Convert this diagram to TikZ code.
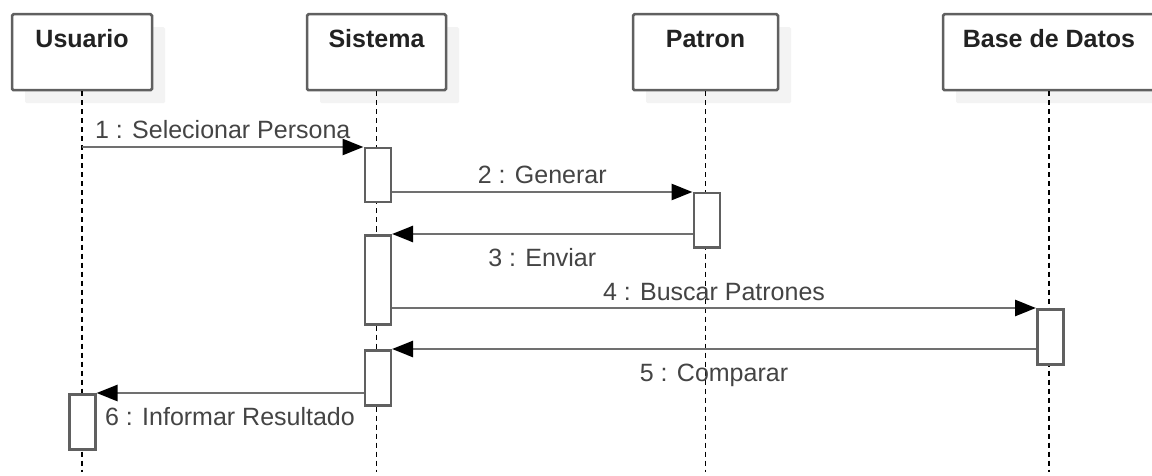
\documentclass[tikz,border=0pt]{standalone}
\usepackage{fontspec}
\setmainfont{Liberation Sans}
\usetikzlibrary{arrows.meta,shadows}
\definecolor{bordc}{HTML}{606060}
\definecolor{linec}{HTML}{707070}
\definecolor{txtc}{HTML}{444444}
\definecolor{titc}{HTML}{222222}
\definecolor{shadc}{HTML}{F3F3F3}
\begin{document}
\begin{tikzpicture}[x=1pt,y=-1pt,
  objbox/.style={draw=bordc, line width=2.5pt, fill=white, rounded corners=1.5pt,
    inner sep=0pt, text height=33pt, text depth=43pt, anchor=north,
    font=\fontsize{25}{30}\selectfont\bfseries, text=titc,
    drop shadow={shadow xshift=13pt, shadow yshift=-13pt, fill=shadc, opacity=1}},
  actbox/.style={draw=bordc, line width=2.5pt, fill=white, minimum width=26pt,
    inner sep=0pt, anchor=north west},
  life/.style={black, line width=1.8pt, dash pattern=on 5pt off 4pt},
  msg/.style={draw=linec, line width=2.5pt, -{Triangle[length=21pt,width=16pt,color=black]}},
  lbl/.style={anchor=base, font=\fontsize{25}{30}\selectfont, text=txtc, inner sep=0pt},
  lblabove/.style={lbl, midway, yshift=8pt},
  lblbelow/.style={lbl, midway, yshift=-32pt}]
\useasboundingbox (0,0) rectangle (1152,476);
\clip (0,0) rectangle (1152,476);
\fill[white] (0,0) rectangle (1152,476);

% objects
\node[objbox, minimum width=140pt] (usr) at (82,13) {Usuario};
\node[objbox, minimum width=139pt] (sis) at (376.5,13) {Sistema};
\node[objbox, minimum width=145pt] (pat) at (705.5,13) {Patron};
\node[objbox, minimum width=212pt] (bd) at (1049,13) {Base de Datos};

% lifeline ends
\coordinate (usrE) at (82,472);
\coordinate (sisE) at (376.5,472);
\coordinate (patE) at (705.5,472);
\coordinate (bdE) at (1049,472);

\draw[life] (usr.south) -- (usrE);
\draw[life] (sis.south) -- (sisE);
\draw[life] (pat.south) -- (patE);
\draw[life] (bd.south) -- (bdE);

% activations
\node[actbox, minimum height=54pt] (a1) at (363.5,147) {};
\node[actbox, minimum height=89pt] (a2) at (363.5,234) {};
\node[actbox, minimum height=55pt] (a3) at (363.5,349) {};
\node[actbox, minimum height=54pt] (p1) at (692.5,192) {};
\node[actbox, minimum height=55pt] (b1) at (1036,308) {};
\node[actbox, minimum height=55pt] (u1) at (68,393) {};

% messages
\draw[msg] (usr.south |- a1.north west) -- node[lblabove] {1 : Selecionar Persona} (a1.north west);
\draw[msg] (a1.east |- p1.north west) -- node[lblabove] {2 : Generar} (p1.north west);
\draw[msg] (p1.west |- a2.north east) -- node[lblbelow] {3 : Enviar} (a2.north east);
\draw[msg] (a2.east |- b1.north west) -- node[lblabove] {4 : Buscar Patrones} (b1.north west);
\draw[msg] (b1.west |- a3.north east) -- node[lblbelow] {5 : Comparar} (a3.north east);
\draw[msg] (a3.west |- u1.north east) -- node[lblbelow] {6 : Informar Resultado} (u1.north east);
\end{tikzpicture}
\end{document}
